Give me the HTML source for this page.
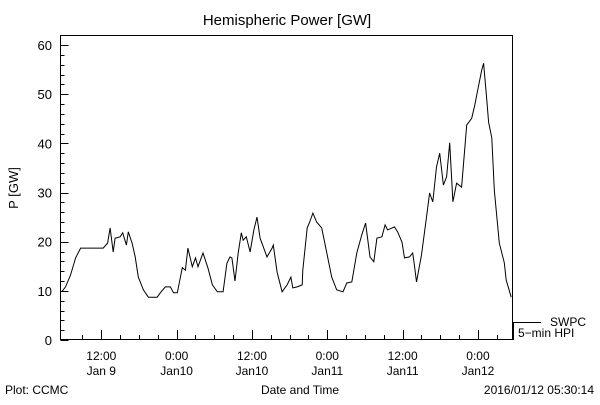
<!DOCTYPE html>
<html><head><meta charset="utf-8"><style>
body{margin:0;background:#fff;width:600px;height:400px;overflow:hidden}
text{font-family:"Liberation Sans",sans-serif;fill:#000}
</style></head><body>
<svg id="chart" width="600" height="400" viewBox="0 0 600 400">
<text x="287" y="25" font-size="15" text-anchor="middle">Hemispheric Power [GW]</text>
<rect x="60.5" y="35.5" width="452" height="304" fill="none" stroke="#000" stroke-width="1"/>
<g id="yaxis"></g>
<g id="xaxis"></g>
<text x="18" y="188" font-size="13" text-anchor="middle" transform="rotate(-90 18 188)">P [GW]</text>
<text x="300" y="394" font-size="12" text-anchor="middle">Date and Time</text>
<text x="5" y="394" font-size="12">Plot: CCMC</text>
<text x="594" y="394" font-size="12" text-anchor="end">2016/01/12 05:30:14</text>
<line x1="513" y1="322.5" x2="541" y2="322.5" stroke="#000"/>
<text x="550" y="326" font-size="12">SWPC</text>
<line x1="513.5" y1="322" x2="513.5" y2="340" stroke="#000"/>
<text x="518" y="337" font-size="12">5−min HPI</text>
<polyline id="series" fill="none" stroke="#000" stroke-width="1"/>
</svg>
<script>
const hours=[0.2,0.8,1.6,2.4,3.2,6.8,7.5,7.9,8.4,8.7,9.5,9.9,10.5,10.8,11.4,11.9,12.4,13.2,14.0,15.4,15.9,16.7,17.5,18.0,18.6,19.4,19.9,20.3,21.0,21.5,21.9,22.7,23.5,24.2,25.0,25.9,26.5,27.0,27.3,27.8,28.3,28.8,29.1,29.6,30.2,30.8,31.3,31.8,32.9,33.7,33.9,34.5,35.3,36.1,36.7,37.0,37.7,38.5,38.6,39.3,39.7,40.2,40.8,41.6,42.1,43.2,44.0,45.0,45.6,46.4,47.2,48.0,48.6,49.3,49.9,50.4,51.2,51.7,52.1,53.2,53.7,54.4,54.8,55.6,56.1,56.4,56.7,57.5,58.3,58.8,59.3,59.9,60.4,61.0,61.5,62.0,62.5,63.1,63.9,64.7,65.5,66.0,66.4,67.1,67.4,67.9,68.2,68.7,69.1,69.9,70.7,71.0,71.8];
const power=[9.8,10.8,13.2,16.7,18.7,18.7,19.7,22.8,17.9,20.7,21.0,21.8,19.3,22.0,19.7,16.9,12.8,10.2,8.7,8.7,9.6,10.8,10.8,9.6,9.6,14.7,14.2,18.7,14.9,16.7,14.9,17.7,14.6,11.2,9.8,9.8,15.6,16.9,16.7,12.0,17.7,21.8,20.3,21.0,17.9,22.4,25.0,20.7,16.9,18.7,19.3,13.8,9.8,11.2,12.8,10.6,10.8,11.2,14.2,22.8,24.0,25.8,24.0,22.8,19.7,12.8,10.2,9.8,11.6,11.8,17.7,21.4,23.8,16.9,15.9,20.7,21.0,23.4,22.4,23.0,22.0,19.9,16.7,16.9,17.7,14.9,11.8,17.3,25.0,29.9,28.1,35.2,38.0,31.5,33.2,40.1,28.1,31.9,31.1,43.7,45.1,47.8,50.4,54.9,56.3,48.8,44.3,41.1,30.5,19.7,15.7,12.2,8.7];
const yTicks=[0,10,20,30,40,50,60];
const xTickHours=[6.5,18.5,30.5,42.5,54.5,66.5];
const xTickLabels1=["12:00","0:00","12:00","0:00","12:00","0:00"];
const xTickLabels2=["Jan 9","Jan10","Jan10","Jan11","Jan11","Jan12"];
const X0=60.5,XW=452,HSPAN=72,Y0=340,YK=295/60;
const xs=h=>X0+h/HSPAN*XW, ys=v=>Y0-v*YK;
const NS="http://www.w3.org/2000/svg";
function mk(tag,attrs,parent){const e=document.createElementNS(NS,tag);for(const k in attrs)e.setAttribute(k,attrs[k]);parent.appendChild(e);return e;}
const ya=document.getElementById('yaxis'),xa=document.getElementById('xaxis');
for(let v=0;v<=60;v+=2){const y=Math.round(ys(v))+0.5;const big=v%10===0;
 const t=mk('line',{x1:60.5,x2:60.5+(big?8:4),y1:y,y2:y,stroke:'#000'},ya);
 
 }
yTicks.forEach(v=>{const t=mk('text',{x:52,y:ys(v)+5,'font-size':13,'text-anchor':'end'},ya);t.textContent=v;
 
 });
for(let h=xTickHours[0]-3;h<HSPAN;h+=3){if(h<0)continue;const x=Math.round(xs(h))+0.5;const big=xTickHours.includes(h);
 const t=mk('line',{x1:x,x2:x,y1:340,y2:big?330:335,stroke:'#000'},xa);
 
 }
xTickHours.forEach((h,i)=>{const a=mk('text',{x:xs(h),y:360,'font-size':12,'text-anchor':'middle'},xa);a.textContent=xTickLabels1[i];
 
 
 const b=mk('text',{x:xs(h),y:375,'font-size':12,'text-anchor':'middle'},xa);b.textContent=xTickLabels2[i];
 
 });
document.getElementById('series').setAttribute('points',hours.map((h,i)=>xs(h).toFixed(1)+','+ys(power[i]).toFixed(1)).join(' '));
</script>
</body></html>
